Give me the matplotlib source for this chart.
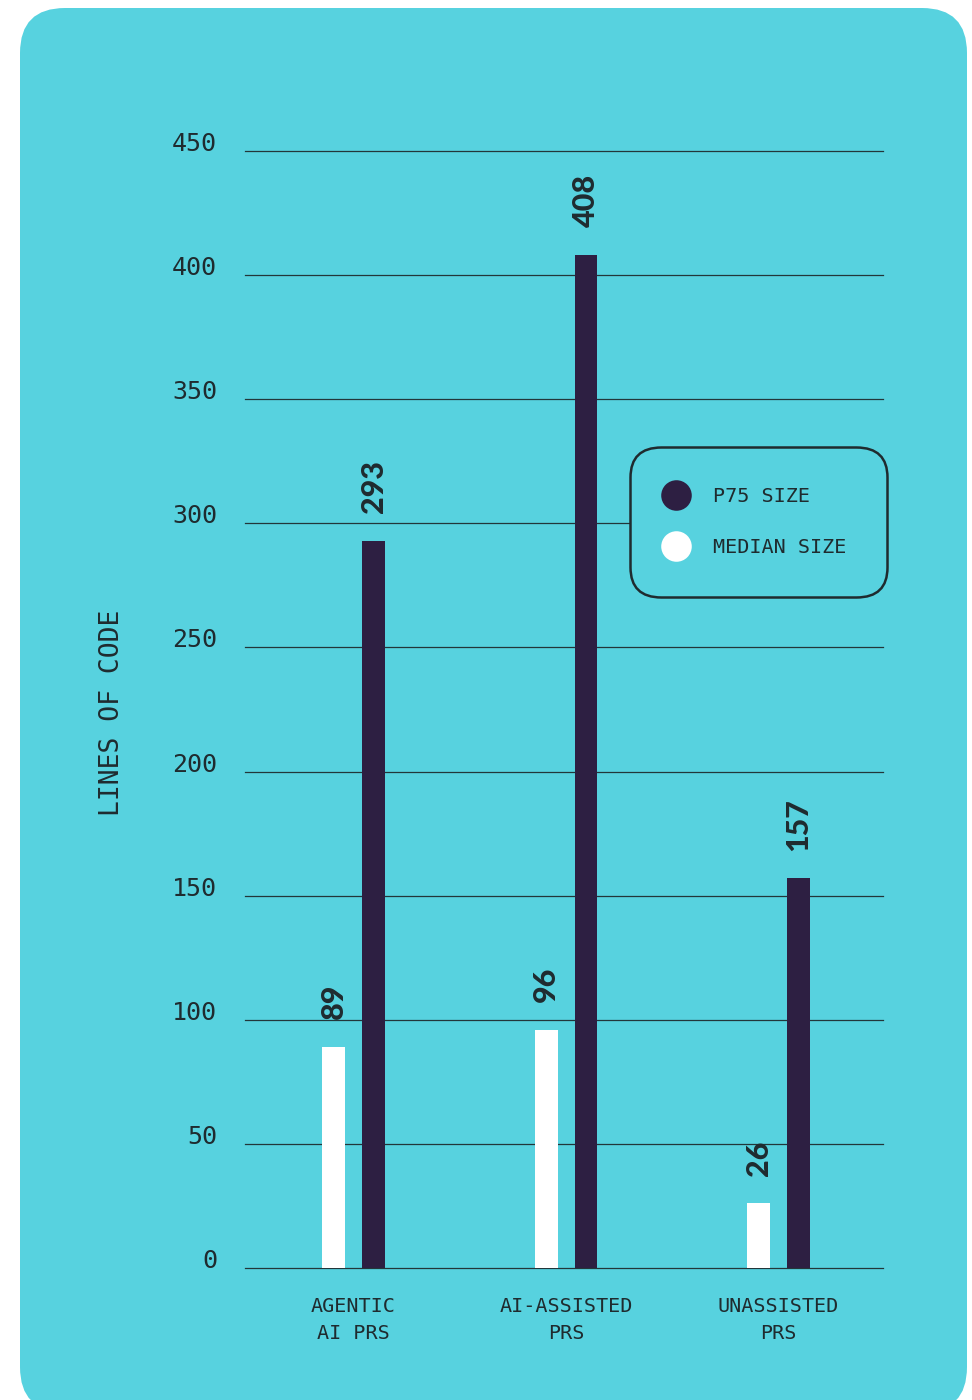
import matplotlib
matplotlib.use('Agg')
import matplotlib.pyplot as plt
from matplotlib.patches import FancyBboxPatch
from matplotlib.lines import Line2D
from matplotlib.transforms import IdentityTransform
import numpy as np

categories = ['AGENTIC\nAI PRS', 'AI-ASSISTED\nPRS', 'UNASSISTED\nPRS']
median_size = [89, 96, 26]
p75_size = [293, 408, 157]
yticks = [0, 50, 100, 150, 200, 250, 300, 350, 400, 450]

CYAN = '#57d2df'
DARK = '#2d1f42'
TEXT = '#1f2b2f'
MONO = ['DejaVu Sans Mono']

fig = plt.figure(figsize=(9.72, 14), dpi=100)
fig.patch.set_facecolor('white')

# rounded card background (pixel coords)
card = FancyBboxPatch((20, -12), 947, 1404, boxstyle='round,pad=0,rounding_size=45',
                      transform=IdentityTransform(), facecolor=CYAN, edgecolor='none',
                      zorder=-5)
fig.patches.append(card)

ax = fig.add_axes([245 / 972, 132 / 1400, 638 / 972, 1117 / 1400])
ax.set_facecolor('none')
ax.set_zorder(2)

x = np.arange(len(categories))
w = 0.108
off = 0.094
ax.bar(x - off, median_size, w, color='white', zorder=3)
ax.bar(x + off, p75_size, w, color=DARK, zorder=3)

for xi, v in zip(x - off, median_size):
    ax.annotate(str(v), (xi, v), xytext=(0, 20), textcoords='offset points',
                rotation=90, ha='center', va='bottom', fontsize=22,
                fontweight='black', family='Lato', color=TEXT, zorder=4)
for xi, v in zip(x + off, p75_size):
    ax.annotate(str(v), (xi, v), xytext=(0, 20), textcoords='offset points',
                rotation=90, ha='center', va='bottom', fontsize=22,
                fontweight='black', family='Lato', color=TEXT, zorder=4)

ax.set_xlim(-0.511, 2.492)
ax.set_ylim(0, 450)
ax.set_yticks(yticks)
ax.set_yticklabels([str(t) for t in yticks], family=MONO, fontsize=18, color=TEXT)
for t in ax.get_yticklabels():
    t.set_va('baseline')
ax.set_xticks(x)
ax.set_xticklabels(categories, family=MONO, fontsize=14.5, color=TEXT,
                   linespacing=1.55)
ax.tick_params(axis='y', length=0, pad=20)
ax.tick_params(axis='x', length=0, pad=21)
for s in ax.spines.values():
    s.set_visible(False)
ax.grid(axis='y', color='#22363a', linewidth=0.9, zorder=1)
for gl in ax.get_ygridlines():
    gl.set_clip_on(False)
ax.set_axisbelow(True)

ax.set_ylabel('LINES OF CODE', family=MONO, fontsize=19, color=TEXT)
ax.yaxis.set_label_coords(-0.188, 0.497)

handles = [Line2D([], [], marker='o', linestyle='none', markersize=22,
                  markerfacecolor=DARK, markeredgecolor='none'),
           Line2D([], [], marker='o', linestyle='none', markersize=22,
                  markerfacecolor='white', markeredgecolor='none')]
leg = ax.legend(handles, ['P75 SIZE', 'MEDIAN SIZE'], loc='center',
                bbox_to_anchor=((634 + 883) / 2 / 972, (1400 - 522) / 1400),
                bbox_transform=fig.transFigure,
                prop={'family': MONO, 'size': 14.5}, labelcolor=TEXT,
                frameon=True, facecolor=CYAN, edgecolor='#1f2b2f', framealpha=1,
                borderpad=2.0, handlelength=0.55, handletextpad=1.55,
                labelspacing=1.6)
leg.get_frame().set_linewidth(1.8)
leg.get_frame().set_boxstyle('round', pad=0, rounding_size=1.5)
leg.set_zorder(5)

fig.savefig('out.png', dpi=100, facecolor='white')
